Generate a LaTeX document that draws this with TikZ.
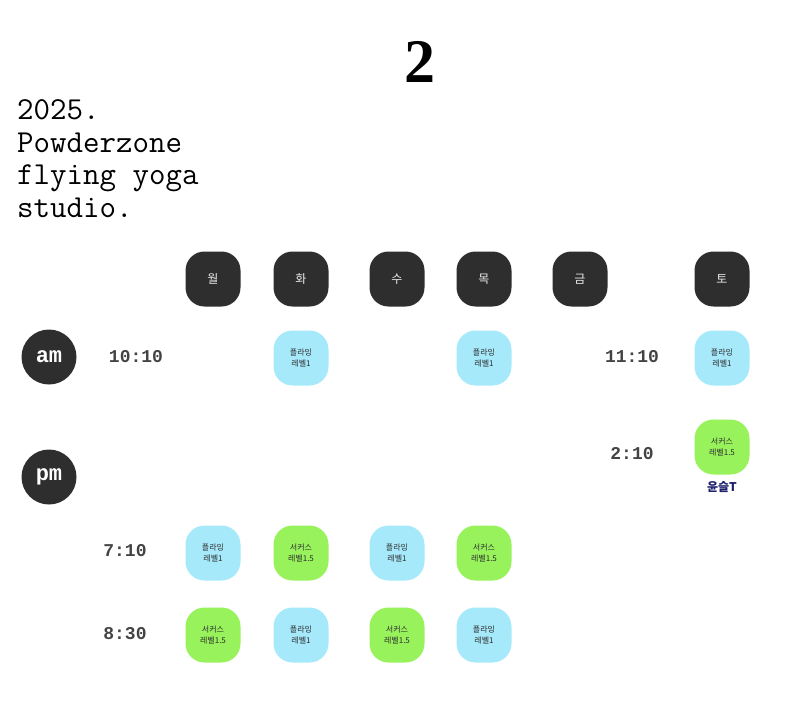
\documentclass[tikz,border=0pt]{standalone}
\usepackage{fontspec}
\setmainfont{Liberation Serif}
\newfontfamily\courier{Liberation Mono}
\newfontfamily\kor{Noto Sans CJK KR}
\definecolor{ink}{HTML}{2E2E2E}
\definecolor{flyblue}{HTML}{A6E9FB}
\definecolor{circgreen}{HTML}{97F25C}
\definecolor{navy}{HTML}{1C1F6B}
\tikzset{
  daybox/.style={fill=ink, rounded corners=19pt, minimum size=55pt, inner sep=0pt,
    text=white!92!black, font=\kor\fontsize{12}{14}\selectfont},
  classbox/.style={rounded corners=19pt, minimum size=55pt, inner sep=0pt, align=center,
    text=ink, font=\kor\fontsize{8}{11}\selectfont},
  flybox/.style={classbox, fill=flyblue},
  circbox/.style={classbox, fill=circgreen},
  ampm/.style={circle, fill=ink, minimum size=55pt, inner sep=0pt, text=white,
    font=\courier\bfseries\fontsize{22}{24}\selectfont},
  timelbl/.style={text=ink!90, font=\courier\bfseries\fontsize{18}{20}\selectfont}
}
\begin{document}
\begin{tikzpicture}[x=1pt,y=-1pt]
		\useasboundingbox (0,0) rectangle (800,718);
		
		\node (title) at (420,62) {\bfseries\fontsize{62}{64}\selectfont 2};
		\node[anchor=base west, inner sep=0pt, align=left, font=\ttfamily\fontsize{32}{32.5}\selectfont] (studio) at (17,217)
			{2025.\\Powderzone\\flying yoga\\studio.};
		
		% days
		\node[daybox] (mon) at (213,279) {월};
		\node[daybox] (tue) at (301,279) {화};
		\node[daybox] (wed) at (397,279) {수};
		\node[daybox] (thu) at (484,279) {목};
		\node[daybox] (fri) at (580,279) {금};
		\node[daybox] (sat) at (722,279) {토};
		
		\node[ampm] (am) at (49,357) {am};
		\node[ampm] (pm) at (49,477) {pm};
		
		% times
		\node[timelbl] (t1010) at (136,357) {10:10};
		\node[timelbl] (t1110) at (632,357) {11:10};
		\node[timelbl] (t210)  at (632,454) {2:10};
		\node[timelbl] (t710)  at (125,551) {7:10};
		\node[timelbl] (t830)  at (125,634) {8:30};
		
		% classes
		\node[flybox] (tue-am) at (301,358) {플라잉\\레벨1};
		\node[flybox] (thu-am) at (484,358) {플라잉\\레벨1};
		\node[flybox] (sat-am) at (722,358) {플라잉\\레벨1};
		\node[circbox] (sat-pm) at (722,447) {서커스\\레벨1.5};
		\node[text=navy, font=\kor\bfseries\fontsize{12}{14}\selectfont] (teacher) at (722,487) {윤슬T};
		
		\node[flybox]  (mon-710) at (213,553) {플라잉\\레벨1};
		\node[circbox] (tue-710) at (301,553) {서커스\\레벨1.5};
		\node[flybox]  (wed-710) at (397,553) {플라잉\\레벨1};
		\node[circbox] (thu-710) at (484,553) {서커스\\레벨1.5};
		
		\node[circbox] (mon-830) at (213,635) {서커스\\레벨1.5};
		\node[flybox]  (tue-830) at (301,635) {플라잉\\레벨1};
		\node[circbox] (wed-830) at (397,635) {서커스\\레벨1.5};
		\node[flybox]  (thu-830) at (484,635) {플라잉\\레벨1};
		\end{tikzpicture}
\end{document}
